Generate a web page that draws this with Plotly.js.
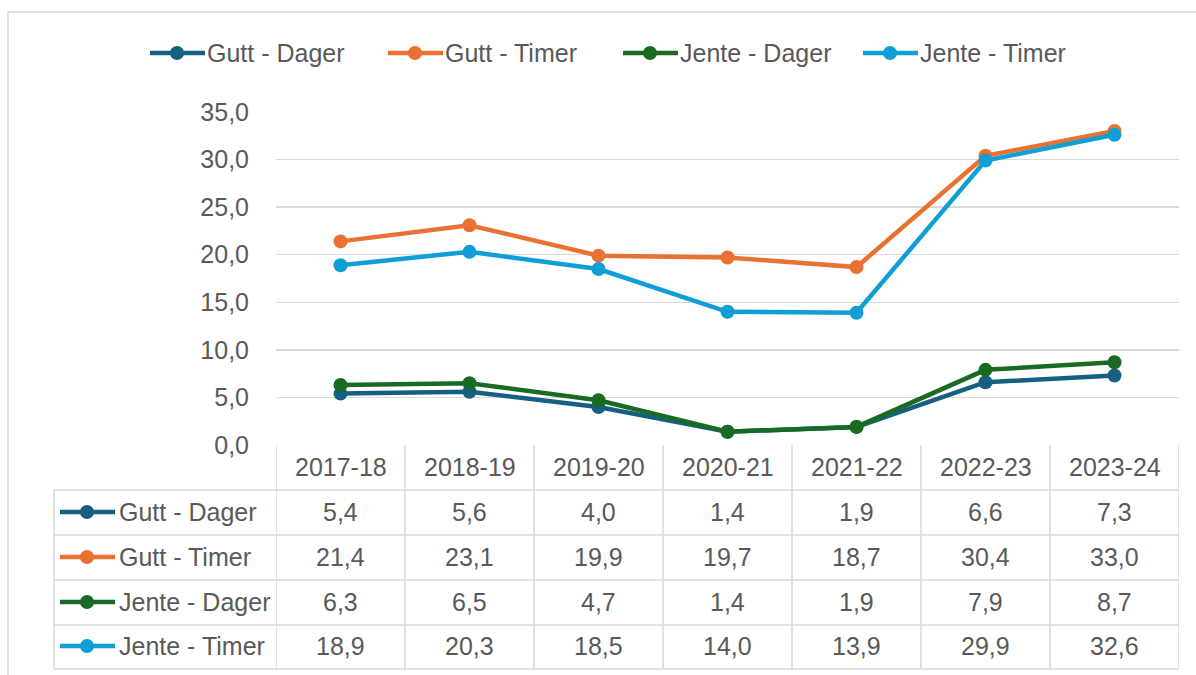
<!DOCTYPE html>
<html><head><meta charset="utf-8">
<script src="https://cdn.plot.ly/plotly-3.0.1.min.js"></script>
<style>html,body{margin:0;padding:0;background:#fff}#chart{width:1196px;height:675px}</style>
</head><body><div id="chart"></div>
<script>
// ---- data ----
const categories = ['2017-18','2018-19','2019-20','2020-21','2021-22','2022-23','2023-24'];
const seriesNames = ['Gutt - Dager','Gutt - Timer','Jente - Dager','Jente - Timer'];
const guttDager  = [5.4, 5.6, 4.0, 1.4, 1.9, 6.6, 7.3];
const guttTimer  = [21.4, 23.1, 19.9, 19.7, 18.7, 30.4, 33.0];
const jenteDager = [6.3, 6.5, 4.7, 1.4, 1.9, 7.9, 8.7];
const jenteTimer = [18.9, 20.3, 18.5, 14.0, 13.9, 29.9, 32.6];
const yTickValues = [0, 5, 10, 15, 20, 25, 30, 35];

// ---- styling / layout constants ----
const seriesValues = [guttDager, guttTimer, jenteDager, jenteTimer];
const colors = ['#156082', '#E97132', '#196B24', '#0F9ED5'];
const FONT = 'Liberation Sans, Arial, sans-serif';
const FS = 25;
const TXT = '#595959';
const GRID = '#d9d9d9';
const L = 276, R = 1179, T = 112, B = 445;
const fx = p => (p - L) / (R - L);
const fy = p => (B - p) / (B - T);
const fmt = v => v.toFixed(1).replace('.', ',');

const traces = seriesNames.map((name, i) => ({
  type: 'scatter', mode: 'lines+markers', name: name,
  x: categories, y: seriesValues[i],
  line: {color: colors[i], width: 4.5},
  marker: {color: colors[i], size: 14},
  cliponaxis: false, hoverinfo: 'skip'
}));

const shapes = [];
const annotations = [];
const lineShape = (x0, y0, x1, y1, xref, yref, color, w) => ({
  type: 'line', x0, y0, x1, y1, xref, yref, line: {color, width: w}
});

// outer chart border
shapes.push(lineShape(fx(8), fy(12), fx(8), fy(680), 'paper', 'paper', GRID, 1.5));
shapes.push(lineShape(fx(8), fy(12), fx(1200), fy(12), 'paper', 'paper', GRID, 1.5));

// data table
const rowLines = [490, 535, 580, 625, 669];
const headerCenter = 467;
const rowCenters = [512, 557, 602, 646];
for (let k = 0; k <= categories.length; k++) {
  shapes.push(lineShape(k - 0.5, fy(445), k - 0.5, fy(669), 'x', 'paper', GRID, 1.5));
}
rowLines.forEach(py => shapes.push(lineShape(fx(54), fy(py), 1, fy(py), 'paper', 'paper', GRID, 1.5)));
shapes.push(lineShape(fx(54), fy(490), fx(54), fy(669), 'paper', 'paper', GRID, 1.5));

categories.forEach(c => annotations.push({
  x: c, xref: 'x', y: fy(headerCenter), yref: 'paper', text: c, showarrow: false,
  font: {family: FONT, size: FS, color: TXT}, xanchor: 'center', yanchor: 'middle'
}));

function symbol(cx, cy, color) {
  shapes.push(lineShape(fx(cx - 27), fy(cy), fx(cx + 28), fy(cy), 'paper', 'paper', color, 4.5));
  shapes.push({type: 'circle', xref: 'paper', yref: 'paper', xsizemode: 'pixel', ysizemode: 'pixel',
    xanchor: fx(cx), yanchor: fy(cy), x0: -7, x1: 7, y0: -7, y1: 7,
    fillcolor: color, line: {width: 0}});
}

seriesNames.forEach((name, i) => {
  const cy = rowCenters[i];
  symbol(87, cy, colors[i]);
  annotations.push({x: fx(117), xref: 'paper', y: fy(cy), yref: 'paper', text: name, showarrow: false,
    xanchor: 'left', yanchor: 'middle', font: {family: FONT, size: FS, color: TXT}});
  seriesValues[i].forEach((v, j) => annotations.push({
    x: categories[j], xref: 'x', y: fy(cy), yref: 'paper', text: fmt(v), showarrow: false,
    xanchor: 'center', yanchor: 'middle', font: {family: FONT, size: FS, color: TXT}
  }));
});

// custom legend at top
const legendX = [177, 415, 650, 890];
seriesNames.forEach((name, i) => {
  symbol(legendX[i], 53, colors[i]);
  annotations.push({x: fx(legendX[i] + 28), xref: 'paper', y: fy(53), yref: 'paper', text: name, showarrow: false,
    xanchor: 'left', yanchor: 'middle', font: {family: FONT, size: FS, color: TXT}});
});

const layout = {
  width: 1196, height: 675,
  margin: {l: L, r: 1196 - R, t: T, b: 675 - B, pad: 0},
  paper_bgcolor: '#ffffff', plot_bgcolor: '#ffffff',
  separators: ', ',
  showlegend: false,
  xaxis: {type: 'category', range: [-0.5, categories.length - 0.5], showticklabels: false,
    showgrid: false, zeroline: false, showline: false, ticks: ''},
  yaxis: {range: [0, 35], tickvals: yTickValues, tickformat: '.1f', showgrid: true,
    gridcolor: GRID, gridwidth: 1.5, zeroline: false, showline: false, ticks: '',
    ticklabelstandoff: 26, tickfont: {family: FONT, size: FS, color: TXT}},
  shapes: shapes, annotations: annotations
};

Plotly.newPlot('chart', traces, layout, {staticPlot: true, displayModeBar: false});
</script>
</body></html>
